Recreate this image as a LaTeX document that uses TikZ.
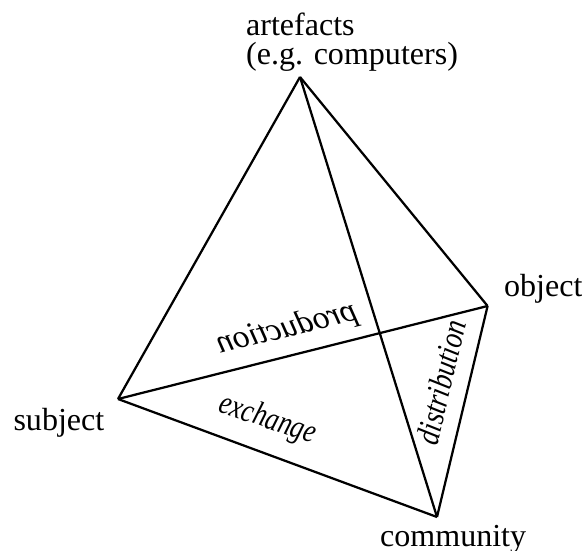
\documentclass[tikz,border=0pt]{standalone}
\usepackage{fontspec}
\setmainfont{Liberation Serif}

\tikzset{
	tag/.style={inner sep=0pt, anchor=base west},
	flow/.style={inner sep=0pt, anchor=base, font=\fontsize{23.5}{21.3}\selectfont\itshape}
}

\begin{document}
\begin{tikzpicture}[line width=1.6pt, line join=miter, font=\fontsize{22.8}{21.3}\selectfont]
	\useasboundingbox (0,0) rectangle (14.55,13.775);
	\coordinate (A)at(7.5, 11.85);
	\coordinate (O)at(12.19, 6.125);
	\coordinate (S)at(2.95, 3.8);
	\coordinate (C)at(10.925, 0.85);
	\node[tag, align=left] (art)at(6.125, 12.15) {artefacts\\(e.g. computers)};
	\node[tag] (obj)at(12.575, 6.35) {object};
	\node[tag] (subj)at(0.31, 3.008) {subject};
	\node[tag] (comm)at(9.475, 0.1) {community};
	\node[flow, rotate=14, xscale=-1] (prod)at(7.225, 5.36) {production};
	\node[flow, rotate=-18.5, xscale=0.8] (exch)at(6.625, 3.0875) {exchange};
	\node[flow, rotate=76.5, xscale=0.82] (dist)at(11.3, 4.15) {distribution};
	\draw (A) -- (S);
	\draw (A) -- (O);
	\draw (A) -- (C);
	\draw (S) -- (O);
	\draw (S) -- (C);
	\draw (O) -- (C);
\end{tikzpicture}
\end{document}
